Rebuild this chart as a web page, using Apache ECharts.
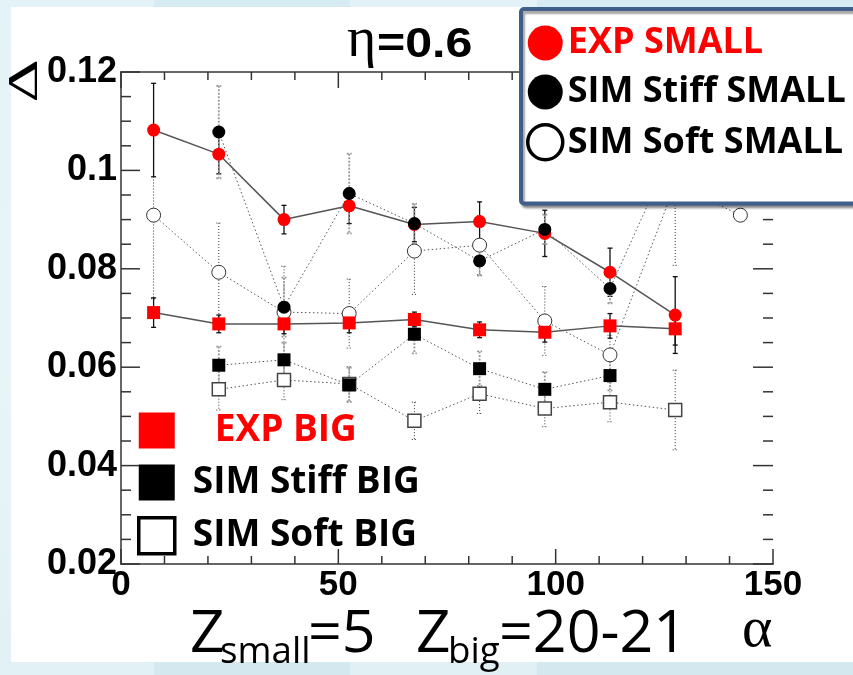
<!DOCTYPE html>
<html>
<head>
<meta charset="utf-8">
<script src="https://cdn.jsdelivr.net/npm/echarts@6/dist/echarts.min.js"></script>
<style>
  html, body { margin: 0; padding: 0; }
  body {
    width: 853px; height: 675px; overflow: hidden;
    background:
      linear-gradient(90deg, rgba(255,255,255,0.35) 0 18%, rgba(255,255,255,0) 18% 41%, rgba(255,255,255,0.3) 41% 63%, rgba(255,255,255,0) 63% 100%),
      linear-gradient(180deg, #d6ecf2 0%, #dcf0f4 50%, #d3e9ef 100%);
  }
  #panel { position: absolute; left: 11px; top: 7px; width: 860px; height: 655px; background: #fff; }
  #chart { position: absolute; left: 0; top: 0; width: 853px; height: 675px; }
</style>
</head>
<body>
<div id="panel"></div>
<div id="chart"></div>
<script>
// Opening angle bins (degrees)
const alpha = [7.5, 22.5, 37.5, 52.5, 67.5, 82.5, 97.5, 112.5, 127.5, 142.5];

// Small fragment (Z=5)
const expSmall      = [0.1082, 0.1033, 0.0900, 0.0928, 0.0890, 0.0896, 0.0872, 0.0793, 0.0706, null];
const expSmallErr   = [0.0095, 0.0040, 0.0029, 0.0036, 0.0035, 0.0040, 0.0047, 0.0049, 0.0078, null];
const stiffSmall    = [null,   0.1078, 0.0722, 0.0953, 0.0892, 0.0816, 0.0880, 0.0760, 0.1054, null];
const stiffSmallErr = [null,   0.0094, 0.0060, 0.0081, 0.0040, 0.0030, 0.0030, 0.0030, 0.0060, null];
const softSmall     = [0.0909, 0.0793, 0.0712, 0.0709, 0.0836, 0.0848, 0.0694, 0.0625, 0.0972, 0.0909];
const softSmallErr  = [0.0170, 0.0100, 0.0093, 0.0070, 0.0088, 0.0060, 0.0070, 0.0040, 0.0165, null];

// Big fragment (Z=20-21)
const expBig        = [0.0711, 0.0688, 0.0688, 0.0690, 0.0697, 0.0676, 0.0671, 0.0684, 0.0678, null];
const expBigErr     = [0.0030, 0.0018, 0.0020, 0.0020, 0.0015, 0.0016, 0.0020, 0.0025, 0.0033, null];
const stiffBig      = [null,   0.0604, 0.0615, 0.0564, 0.0667, 0.0597, 0.0555, 0.0583, null,   null];
const stiffBigErr   = [null,   0.0038, 0.0035, 0.0035, 0.0039, 0.0035, 0.0035, 0.0030, null,   null];
const softBig       = [null,   0.0555, 0.0574, 0.0566, 0.0491, 0.0546, 0.0516, 0.0529, 0.0513, null];
const softBigErr    = [null,   0.0042, 0.0040, 0.0035, 0.0038, 0.0040, 0.0037, 0.0040, 0.0081, null];

// Axis ranges and tick labels
const xTicks = [0, 50, 100, 150];
const yTicks = [0.02, 0.04, 0.06, 0.08, 0.1, 0.12];
const xMinorStep = 10;
const yMinorStep = 0.005;

const RED = '#ff0000';
const X_MIN = xTicks[0], X_MAX = xTicks[xTicks.length - 1];
const Y_MIN = yTicks[0], Y_MAX = yTicks[yTicks.length - 1];

function points(vals) {
  return alpha.map((a, i) => vals[i] == null ? null : [a, vals[i]]).filter(Boolean);
}
function bars(vals, errs) {
  return alpha.map((a, i) => (vals[i] == null || !errs[i]) ? null : [a, vals[i] - errs[i], vals[i] + errs[i]]).filter(Boolean);
}
function errorBarRenderer(style, cap) {
  return function (params, api) {
    const x = api.value(0);
    const hi = api.coord([x, api.value(2)]);
    const lo = api.coord([x, api.value(1)]);
    const st = Object.assign({ fill: null }, style);
    return {
      type: 'group',
      children: [
        { type: 'line', shape: { x1: hi[0], y1: hi[1], x2: lo[0], y2: lo[1] }, style: st },
        { type: 'line', shape: { x1: hi[0] - cap, y1: hi[1], x2: hi[0] + cap, y2: hi[1] }, style: st },
        { type: 'line', shape: { x1: lo[0] - cap, y1: lo[1], x2: lo[0] + cap, y2: lo[1] }, style: st }
      ]
    };
  };
}
function errSeries(name, vals, errs, style) {
  return {
    name: name, type: 'custom', z: 1, silent: true,
    renderItem: errorBarRenderer(style, 2.5),
    encode: { x: 0, y: [1, 2] },
    data: bars(vals, errs)
  };
}

// Inward-pointing frame ticks on all four sides: [axis(0=x,1=y), value, isMajor]
const frameTicks = [];
for (let i = 0; X_MIN + i * xMinorStep <= X_MAX + 1e-9; i++) {
  const v = X_MIN + i * xMinorStep;
  frameTicks.push([0, v, xTicks.some(t => Math.abs(t - v) < 1e-9) ? 1 : 0]);
}
for (let i = 0; Y_MIN + i * yMinorStep <= Y_MAX + 1e-9; i++) {
  const v = +(Y_MIN + i * yMinorStep).toFixed(4);
  frameTicks.push([1, v, yTicks.some(t => Math.abs(t - v) < 1e-9) ? 1 : 0]);
}
function tickRenderer(params, api) {
  const isY = api.value(0) === 1, v = api.value(1), major = api.value(2) === 1;
  const st = { stroke: '#333', lineWidth: 1.5 };
  if (!isY) {
    const b = api.coord([v, Y_MIN]), t = api.coord([v, Y_MAX]);
    const lb = major ? 15 : 8, lt = major ? 16 : 8;
    return { type: 'group', children: [
      { type: 'line', shape: { x1: b[0], y1: b[1], x2: b[0], y2: b[1] - lb }, style: st },
      { type: 'line', shape: { x1: t[0], y1: t[1], x2: t[0], y2: t[1] + lt }, style: st }
    ] };
  }
  const l = api.coord([X_MIN, v]), r = api.coord([X_MAX, v]);
  const ll = major ? 19 : 10, lr = major ? 20 : 10;
  return { type: 'group', children: [
    { type: 'line', shape: { x1: l[0], y1: l[1], x2: l[0] + ll, y2: l[1] }, style: st },
    { type: 'line', shape: { x1: r[0], y1: r[1], x2: r[0] - lr, y2: r[1] }, style: st }
  ] };
}

const expErrStyle   = { stroke: '#111', lineWidth: 1.3 };
const stiffErrStyle = { stroke: '#9a9a9a', lineWidth: 1.8, lineDash: [2, 1.5] };
const softErrStyle  = { stroke: '#333', lineWidth: 1, lineDash: [1, 2] };

const expLine = { color: '#555', width: 1.5, type: 'solid' };
const simLine = { color: '#555', width: 1, type: [1.5, 2.5] };

function markSeries(name, vals, symbol, size, itemStyle, lineStyle) {
  return {
    name: name, type: 'line', z: 2, silent: true,
    symbol: symbol, symbolSize: size, showAllSymbol: true,
    itemStyle: itemStyle, lineStyle: lineStyle,
    emphasis: { disabled: true },
    data: points(vals)
  };
}

const labelFont = { fontFamily: '"Liberation Sans", Arial, sans-serif', fontWeight: 'bold', color: '#000' };
const frameLine = { show: true, lineStyle: { color: '#666', width: 2 } };
const noTicks = { axisTick: { show: false }, minorTick: { show: false }, splitLine: { show: false } };

const chart = echarts.init(document.getElementById('chart'), null, { renderer: 'canvas' });

chart.setOption({
  animation: false,
  backgroundColor: 'transparent',
  grid: { left: 121, right: 80, top: 72, bottom: 111, outerBoundsMode: 'none' },
  xAxis: [
    Object.assign({
      type: 'value', min: X_MIN, max: X_MAX, interval: 50, axisLine: frameLine,
      axisLabel: Object.assign({ fontSize: 35, margin: 4, showMinLabel: true, showMaxLabel: true }, labelFont)
    }, noTicks),
    Object.assign({
      type: 'value', position: 'top', min: X_MIN, max: X_MAX, interval: 50, axisLine: frameLine,
      axisLabel: { show: false }
    }, noTicks)
  ],
  yAxis: [
    Object.assign({
      type: 'value', min: Y_MIN, max: Y_MAX, interval: 0.02, axisLine: frameLine,
      axisLabel: Object.assign({
        fontSize: 36, margin: 4, padding: [5, 0, 0, 0],
        formatter: v => String(+v.toFixed(2))
      }, labelFont)
    }, noTicks),
    Object.assign({
      type: 'value', position: 'right', min: Y_MIN, max: Y_MAX, interval: 0.02, axisLine: frameLine,
      axisLabel: { show: false }
    }, noTicks)
  ],
  legend: [
    {
      orient: 'vertical', left: 521, top: 9, padding: [16, 45, 42, 5],
      itemWidth: 35, itemHeight: 35, itemGap: 13,
      backgroundColor: '#fff', borderColor: '#3f5f8a', borderWidth: 4, borderRadius: 3,
      shadowColor: 'rgba(0,0,0,0.35)', shadowBlur: 2, shadowOffsetX: 2, shadowOffsetY: 3,
      selectedMode: false,
      textStyle: { fontFamily: '"Open Sans", sans-serif', fontWeight: 'bold', fontSize: 36, color: '#000' },
      data: [
        { name: 'EXP SMALL', icon: 'circle', itemStyle: { color: RED, borderWidth: 0 }, textStyle: { color: RED } },
        { name: 'SIM Stiff SMALL', icon: 'circle', itemStyle: { color: '#000', borderWidth: 0 } },
        { name: 'SIM Soft SMALL', icon: 'circle', itemStyle: { color: '#fff', borderColor: '#000', borderWidth: 3.5 } }
      ]
    },
    {
      orient: 'vertical', left: 137, top: 412, padding: 0,
      itemWidth: 36, itemHeight: 36, itemGap: 15,
      selectedMode: false,
      textStyle: { fontFamily: '"Open Sans", sans-serif', fontWeight: 'bold', fontSize: 37, color: '#000', padding: [0, 0, 0, 13] },
      data: [
        { name: 'EXP BIG', icon: 'rect', itemStyle: { color: RED, borderWidth: 0 }, textStyle: { color: RED, padding: [0, 0, 0, 35] } },
        { name: 'SIM Stiff BIG', icon: 'rect', itemStyle: { color: '#000', borderWidth: 0 } },
        { name: 'SIM Soft BIG', icon: 'rect', itemStyle: { color: '#fff', borderColor: '#000', borderWidth: 3.5 } }
      ]
    }
  ],
  graphic: [
    {
      type: 'text', x: 26, y: 81, rotation: Math.PI / 2, scaleX: 1.6,
      style: { text: 'Δ', font: '42px "Liberation Serif", serif', fill: '#000',
               align: 'center', verticalAlign: 'middle', textAlign: 'center', textVerticalAlign: 'middle' }
    },
    {
      type: 'text', x: 347, y: 41,
      style: { text: 'η', font: '56px "Liberation Serif", serif', fill: '#000',
               align: 'left', verticalAlign: 'middle', textAlign: 'left', textVerticalAlign: 'middle' }
    },
    {
      type: 'text', x: 377, y: 45, scaleX: 1.15,
      style: { text: '=0.6', font: 'bold 42px "Liberation Sans", Arial, sans-serif', fill: '#000',
               align: 'left', verticalAlign: 'middle', textAlign: 'left', textVerticalAlign: 'middle' }
    },
    {
      type: 'text', x: 190, y: 635, scaleX: 1.04,
      style: { text: 'Z', font: '58px "Open Sans", sans-serif', fill: '#000',
               align: 'left', verticalAlign: 'middle', textAlign: 'left', textVerticalAlign: 'middle' }
    },
    {
      type: 'text', x: 220, y: 653, scaleX: 1.02,
      style: { text: 'small', font: '36px "Open Sans", sans-serif', fill: '#000',
               align: 'left', verticalAlign: 'middle', textAlign: 'left', textVerticalAlign: 'middle' }
    },
    {
      type: 'text', x: 308, y: 635, scaleX: 1.02,
      style: { text: '=5', font: '58px "Open Sans", sans-serif', fill: '#000',
               align: 'left', verticalAlign: 'middle', textAlign: 'left', textVerticalAlign: 'middle' }
    },
    {
      type: 'text', x: 416, y: 635, scaleX: 1.04,
      style: { text: 'Z', font: '58px "Open Sans", sans-serif', fill: '#000',
               align: 'left', verticalAlign: 'middle', textAlign: 'left', textVerticalAlign: 'middle' }
    },
    {
      type: 'text', x: 448, y: 653, scaleX: 1.02,
      style: { text: 'big', font: '36px "Open Sans", sans-serif', fill: '#000',
               align: 'left', verticalAlign: 'middle', textAlign: 'left', textVerticalAlign: 'middle' }
    },
    {
      type: 'text', x: 499, y: 635, scaleX: 1.02,
      style: { text: '=20-21', font: '58px "Open Sans", sans-serif', fill: '#000',
               align: 'left', verticalAlign: 'middle', textAlign: 'left', textVerticalAlign: 'middle' }
    },
    {
      type: 'text', x: 742, y: 631,
      style: { text: 'α', font: '58px "Liberation Serif", serif', fill: '#000',
               align: 'left', verticalAlign: 'middle', textAlign: 'left', textVerticalAlign: 'middle' }
    }
  ],
  series: [
    // frame ticks
    {
      name: 'frame ticks', type: 'custom', z: 1, silent: true, clip: false,
      renderItem: tickRenderer,
      encode: { x: -1, y: -1 },
      data: frameTicks
    },

    // error bars (drawn beneath the markers)
    errSeries('err soft small',  softSmall,  softSmallErr,  softErrStyle),
    errSeries('err exp small',   expSmall,   expSmallErr,   expErrStyle),
    errSeries('err stiff small', stiffSmall, stiffSmallErr, stiffErrStyle),
    errSeries('err soft big',    softBig,    softBigErr,    softErrStyle),
    errSeries('err stiff big',   stiffBig,   stiffBigErr,   stiffErrStyle),
    errSeries('err exp big',     expBig,     expBigErr,     expErrStyle),

    // markers and connecting lines
    markSeries('SIM Soft SMALL',  softSmall,  'circle', 14, { color: '#fff', borderColor: '#333', borderWidth: 1 }, simLine),
    markSeries('EXP SMALL',       expSmall,   'circle', 13, { color: RED }, expLine),
    markSeries('SIM Stiff SMALL', stiffSmall, 'circle', 13, { color: '#000' }, simLine),
    markSeries('SIM Soft BIG',    softBig,    'rect',   13, { color: '#fff', borderColor: '#444', borderWidth: 1.5 }, simLine),
    markSeries('SIM Stiff BIG',   stiffBig,   'rect',   13, { color: '#000' }, simLine),
    markSeries('EXP BIG',         expBig,     'rect',   13, { color: RED }, expLine)
  ]
});
</script>
</body>
</html>
